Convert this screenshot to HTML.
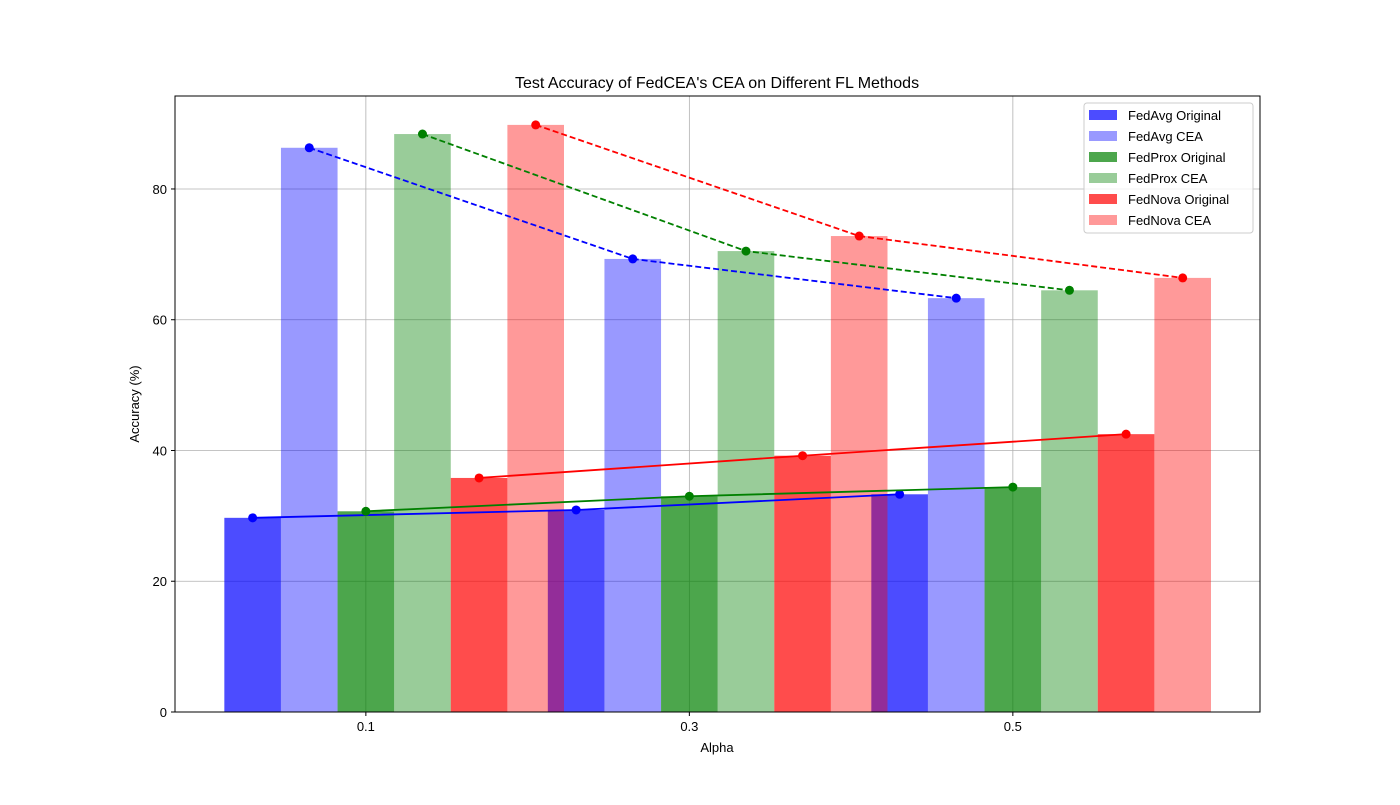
<!DOCTYPE html>
<html><head><meta charset="utf-8"><style>
body{margin:0;background:#fff;}
svg{font-family:"Liberation Sans","DejaVu Sans",sans-serif;}
</style></head><body>
<svg id="chart" width="1400" height="800">
<rect width="1400" height="800" fill="#fff"/>
<g id="grid"></g>
<g id="bars"></g>
<g id="lines"></g>
<rect x="175" y="96" width="1085" height="616" fill="none" stroke="#000" stroke-width="1"/>
<g id="axes"></g>
<text x="717" y="88" font-size="16" text-anchor="middle">Test Accuracy of FedCEA's CEA on Different FL Methods</text>
<text x="717" y="752" font-size="13" text-anchor="middle">Alpha</text>
<text x="139" y="404" font-size="13" text-anchor="middle" transform="rotate(-90 139 404)">Accuracy (%)</text>
<g id="legend"></g>
</svg>
<script>
const categories=["0.1","0.3","0.5"];
const seriesNames=["FedAvg Original","FedAvg CEA","FedProx Original","FedProx CEA","FedNova Original","FedNova CEA"];
const fedAvgOriginal=[29.7,30.9,33.3];
const fedAvgCEA=[86.3,69.3,63.3];
const fedProxOriginal=[30.7,33.0,34.4];
const fedProxCEA=[88.4,70.5,64.5];
const fedNovaOriginal=[35.8,39.2,42.5];
const fedNovaCEA=[89.8,72.8,66.4];
const yTicks=[0,20,40,60,80];

const series=[fedAvgOriginal,fedAvgCEA,fedProxOriginal,fedProxCEA,fedNovaOriginal,fedNovaCEA];
const baseCol=["#0000ff","#0000ff","#008000","#008000","#ff0000","#ff0000"];
const alphas=[0.7,0.4,0.7,0.4,0.7,0.4];
const NS="http://www.w3.org/2000/svg";
const L=175,R=1260,T=96,B=712;
const xmin=-0.59,xmax=2.764,ymax=94.22;
const X=v=>L+(v-xmin)/(xmax-xmin)*(R-L);
const Y=v=>B-v/ymax*(B-T);
const W=0.175;
function mk(t,a,p){const e=document.createElementNS(NS,t);for(const k in a)e.setAttribute(k,a[k]);p.appendChild(e);return e;}
const grid=document.getElementById('grid'),axes=document.getElementById('axes');
categories.forEach((c,i)=>{
 const g=mk('line',{x1:X(i),x2:X(i),y1:T,y2:B,stroke:'#b0b0b0','stroke-width':0.8},grid);
 
 
 mk('line',{x1:X(i),x2:X(i),y1:B,y2:B+4,stroke:'#000'},axes);
 const t=mk('text',{x:X(i),y:B+19,'font-size':13,'text-anchor':'middle'},axes);t.textContent=c;
 
 
});
yTicks.forEach(v=>{
 const g=mk('line',{x1:L,x2:R,y1:Y(v),y2:Y(v),stroke:'#b0b0b0','stroke-width':0.8},grid);
 
 
 mk('line',{x1:L-4,x2:L,y1:Y(v),y2:Y(v),stroke:'#000'},axes);
 const t=mk('text',{x:L-8,y:Y(v)+5,'font-size':13,'text-anchor':'end'},axes);t.textContent=v;
 
 
});
const bars=document.getElementById('bars'),lines=document.getElementById('lines');
const offs=[-2,-1,0,1,2,3];
series.forEach((s,k)=>{
 s.forEach((v,i)=>{
  const cx=i+offs[k]*W;
  const r=mk('rect',{x:X(cx-W/2),y:Y(v),width:X(cx+W/2)-X(cx-W/2),height:B-Y(v),fill:baseCol[k],'fill-opacity':alphas[k]},bars);
  
  
 });
});
series.forEach((s,k)=>{
 const pts=s.map((v,i)=>X(i+offs[k]*W)+','+Y(v)).join(' ');
 const pl=mk('polyline',{points:pts,fill:'none',stroke:baseCol[k],'stroke-width':1.8,'stroke-dasharray':k%2?'6,3':'none'},lines);
 
 
 s.forEach((v,i)=>{
  const c=mk('circle',{cx:X(i+offs[k]*W),cy:Y(v),r:4.5,fill:baseCol[k]},lines);
  
  
 });
});
const lg=document.getElementById('legend');
const box=mk('rect',{x:1084,y:103,width:169,height:130,fill:'#fff','fill-opacity':0.8,stroke:'#ccc',rx:3},lg);


seriesNames.forEach((n,k)=>{
 const y=115+k*21;
 mk('rect',{x:1089,y:y-5,width:28,height:10,fill:baseCol[k],'fill-opacity':alphas[k]},lg);
 const t=mk('text',{x:1128,y:y+5,'font-size':13},lg);t.textContent=n;
 
 
});
</script>
</body></html>
